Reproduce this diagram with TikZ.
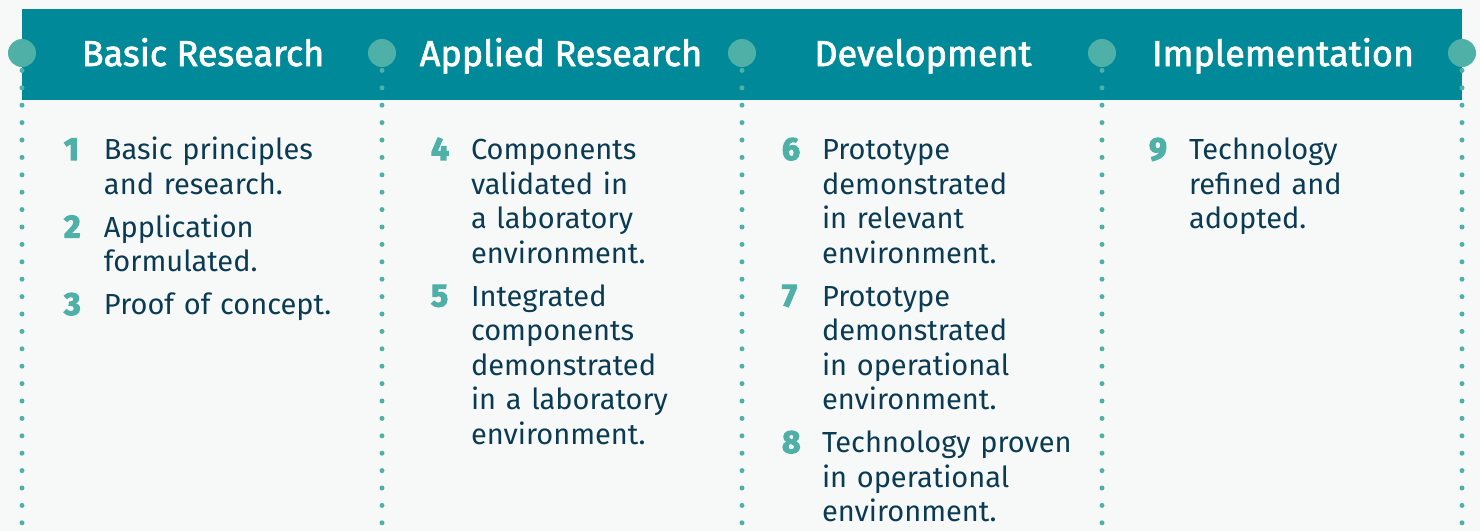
\documentclass[tikz,border=0pt]{standalone}
\usepackage{fontspec}
\setmainfont{Fira Sans}
\newfontfamily\phasefont{Fira Sans}[FakeBold=1.8]
\newfontfamily\trlnumfont{Fira Sans}[FakeBold=3.5]
\usetikzlibrary{positioning}

\definecolor{paper}{HTML}{F7F9F9}
\definecolor{bandteal}{HTML}{008A99}
\definecolor{dotteal}{HTML}{4FB0A8}
\definecolor{inkblue}{HTML}{0B3B52}

\begin{document}
\begin{tikzpicture}[
  x=0.5pt, y=-0.5pt,
  every node/.style={inner sep=0pt, outer sep=0pt},
  pin/.style={circle, fill=dotteal, minimum size=14pt},
  dotline/.style={dotteal, line width=2.5pt, line cap=round,
    dash pattern=on 0pt off 8.7pt},
  phase/.style={anchor=base, text=white,
    font=\phasefont\fontsize{18}{20}\selectfont},
  trlstep/.style={anchor=north west, text width=140pt, align=left,
    text=inkblue, font=\fontsize{14.5}{17.25}\selectfont,
    execute at begin node=\strut, execute at end node=\strut},
  trlnum/.style={anchor=north west, text=dotteal,
    font=\trlnumfont\bfseries\fontsize{16}{17.25}\selectfont,
    execute at begin node=\strut},
  ]
  \fill[paper] (0,0) rectangle (1480,531);
  \useasboundingbox (0,0) rectangle (1480,531);
  \fill[bandteal] (22,9) rectangle (1462,100);

  % dotted separators and pins
  \foreach \i/\cx in {0/22,1/382,2/742,3/1102,4/1462} {
    \coordinate (top\i) at (\cx,53);
    \coordinate (bot\i) at (\cx,531);
    \draw[dotline] (top\i) -- (bot\i);
    \node[pin] (pin\i) at (top\i) {};
  }

  % phases
  \node[phase] (basic) at (203,66) {Basic Research};
  \node[phase] (applied) at (561,66) {Applied Research};
  \node[phase] (devel) at (923,66) {Development};
  \node[phase] (impl) at (1283,66) {Implementation};

  % basic research
  \node[trlstep] (s1) at (104,135.8) {Basic principles\\and research.};
  \node[trlstep, below=4.25pt of s1.south west, anchor=north west] (s2)
    {Application\\formulated.};
  \node[trlstep, below=4.25pt of s2.south west, anchor=north west] (s3)
    {Proof of concept.};

  % applied research
  \node[trlstep] (s4) at (471,135.8)
    {Components\\validated in\\a laboratory\\environment.};
  \node[trlstep, below=4.25pt of s4.south west, anchor=north west] (s5)
    {Integrated\\components\\demonstrated\\in a laboratory\\environment.};

  % development
  \node[trlstep] (s6) at (822,135.8)
    {Prototype\\demonstrated\\in relevant\\environment.};
  \node[trlstep, below=4.25pt of s6.south west, anchor=north west] (s7)
    {Prototype\\demonstrated\\in operational\\environment.};
  \node[trlstep, below=4.25pt of s7.south west, anchor=north west] (s8)
    {Technology proven\\in operational\\environment.};

  % implementation
  \node[trlstep] (s9) at (1189,135.8) {Technology\\refined and\\adopted.};

  % level numbers
  \foreach \n in {1,...,9}
    \node[trlnum] (n\n) at ([xshift=-20pt]s\n.north west) {\n};
\end{tikzpicture}
\end{document}
